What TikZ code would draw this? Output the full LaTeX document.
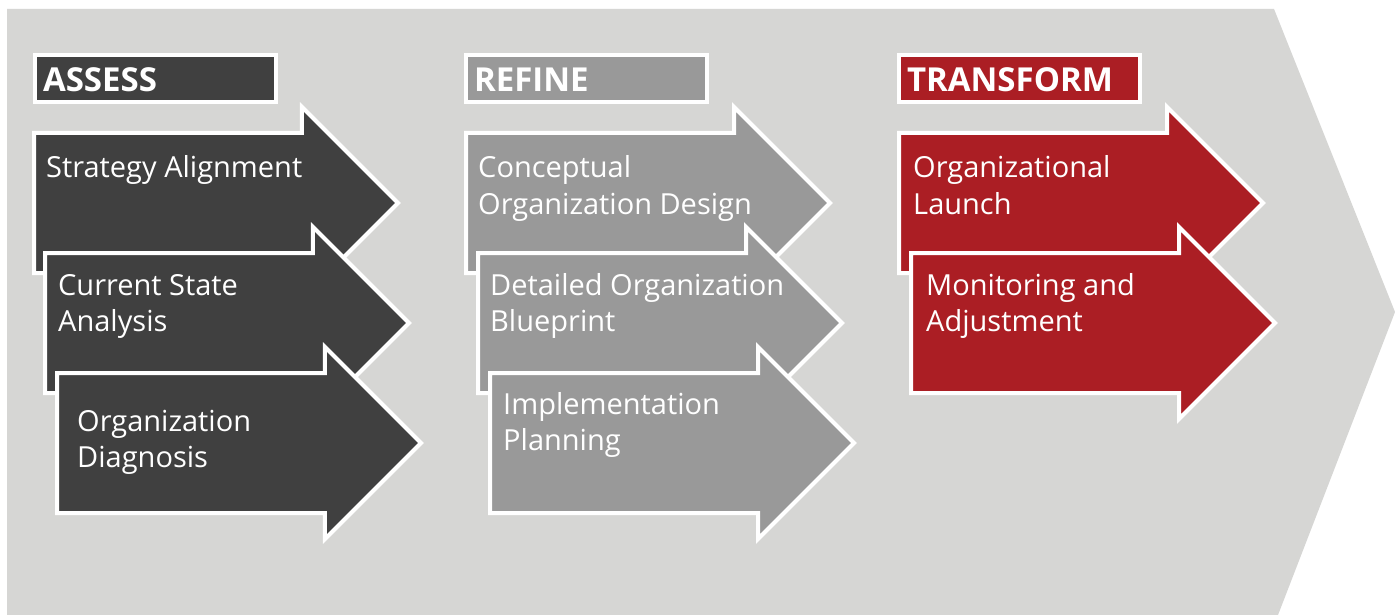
\documentclass[tikz,border=0pt]{standalone}
\usepackage{fontspec}
\setmainfont{Open Sans}
\usetikzlibrary{shapes.arrows}

\definecolor{panel}{HTML}{D6D6D4}
\definecolor{darkgrey}{HTML}{404040}
\definecolor{midgrey}{HTML}{999999}
\definecolor{deepred}{HTML}{AB1E24}

\begin{document}
\begin{tikzpicture}[
  x=1pt, y=-1pt,
  hdr/.style = {draw=white, line width=4pt, outer sep=0pt, text=white,
                font=\fontsize{33}{36}\selectfont\bfseries,
                minimum height=47pt, inner xsep=8pt, inner ysep=0pt,
                text height=27pt, text depth=0pt,
                text width=225pt, align=left, anchor=north west},
  arr/.style = {single arrow, draw=white, line width=4pt, line join=miter,
                outer sep=0pt, inner xsep=0pt, inner ysep=68pt,
                minimum height=364pt, single arrow head extend=26pt,
                single arrow tip angle=90, anchor=tail},
  txt/.style = {text=white, font=\fontsize{29}{36}\selectfont,
                align=left, inner sep=0pt, anchor=base west},
]
\useasboundingbox (0,0) rectangle (1395,615);
\fill[white] (0,0) rectangle (1395,615);

% big chevron behind the three phases
\fill[panel] (7,9) -- (1274,9) -- (1395,312) -- (1278,615) -- (7,615) -- cycle;

% phase headers
\node[hdr, fill=darkgrey] (assess)    at (35,55)  {ASSESS};
\node[hdr, fill=midgrey]  (refine)    at (466,55) {REFINE};
\node[hdr, fill=deepred]  (transform) at (899,55) {TRANSFORM};

% assess (base anchor sits on the last line)
\node[arr, fill=darkgrey] (a1) at (34,203) {};
\node[txt] (a1t) at (46,178) {Strategy Alignment};
\node[arr, fill=darkgrey] (a2) at (45,323) {};
\node[txt] (a2t) at (58,331) {Current State\\Analysis};
\node[arr, fill=darkgrey] (a3) at (57,443) {};
\node[txt] (a3t) at (77,467) {Organization\\Diagnosis};

% refine
\node[arr, fill=midgrey] (r1) at (466,203) {};
\node[txt] (r1t) at (478,214) {Conceptual\\Organization Design};
\node[arr, fill=midgrey] (r2) at (478,323) {};
\node[txt] (r2t) at (490,331) {Detailed Organization\\Blueprint};
\node[arr, fill=midgrey] (r3) at (490,443) {};
\node[txt] (r3t) at (503,450) {Implementation\\Planning};

% transform
\node[arr, fill=deepred] (t1) at (899,203) {};
\node[txt] (t1t) at (913,214) {Organizational\\Launch};
\node[arr, fill=deepred] (t2) at (911,323) {};
\node[txt] (t2t) at (926,331) {Monitoring and\\Adjustment};
\end{tikzpicture}
\end{document}
